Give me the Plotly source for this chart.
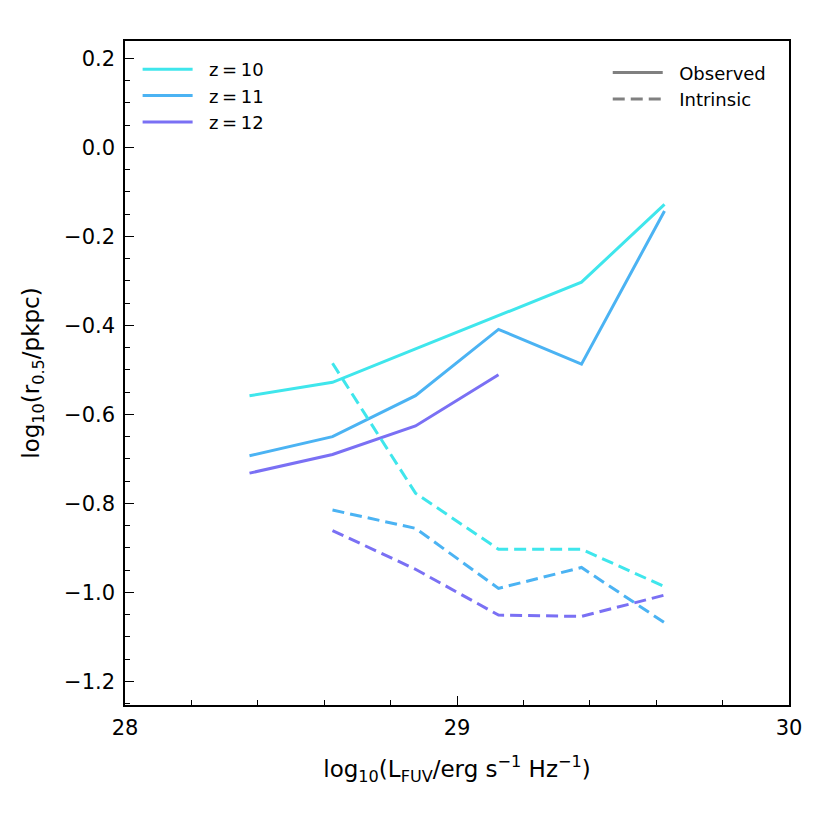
import numpy as np
import plotly.graph_objects as go

# luminosity bin centres, log10(L_FUV / erg s^-1 Hz^-1)
lum_bins = [28.375, 28.625, 28.875, 29.125, 29.375, 29.625]

# observed half-light radii, log10(r_0.5 / pkpc)
obs_z10 = [-0.558, -0.528, -0.453, -0.378, -0.303, -0.128]
obs_z11 = [-0.693, -0.650, -0.558, -0.409, -0.487, -0.143]
obs_z12 = [-0.732, -0.690, -0.626, -0.511, None, None]

# intrinsic half-light radii
int_z10 = [None, -0.485, -0.777, -0.903, -0.903, -0.987]
int_z11 = [None, -0.815, -0.856, -0.991, -0.944, -1.068]
int_z12 = [None, -0.861, -0.948, -1.051, -1.054, -1.006]

redshifts = ["\u00a0\u00a0z\u2009=\u200910", "\u00a0\u00a0z\u2009=\u200911", "\u00a0\u00a0z\u2009=\u200912"]
colours = ["#3fe6ec", "#4bb3f3", "#7a70f4"]

FONT = "DejaVu Sans"

fig = go.Figure()

# solid lines: observed sizes
for name, ys, col in zip(redshifts, [obs_z10, obs_z11, obs_z12], colours):
    fig.add_trace(go.Scatter(
        x=lum_bins, y=ys, mode="lines", name=name,
        line=dict(color=col, width=3), legend="legend"
    ))

# dashed lines: intrinsic sizes
for name, ys, col in zip(redshifts, [int_z10, int_z11, int_z12], colours):
    fig.add_trace(go.Scatter(
        x=lum_bins, y=ys, mode="lines", name=name, showlegend=False,
        line=dict(color=col, width=3, dash="12px,6px")
    ))

# legend-only entries for the line styles
fig.add_trace(go.Scatter(x=[None], y=[None], mode="lines", name="\u00a0\u00a0Observed",
                         line=dict(color="#808080", width=3), legend="legend2"))
fig.add_trace(go.Scatter(x=[None], y=[None], mode="lines", name="\u00a0\u00a0Intrinsic",
                         line=dict(color="#808080", width=3, dash="12px,6px"),
                         legend="legend2"))

axis_common = dict(
    showline=True, linecolor="black", linewidth=1.5, mirror=True,
    ticks="inside", tickcolor="black", tickwidth=1, ticklen=9,
    showgrid=False, zeroline=False,
    tickfont=dict(family=FONT, size=21, color="black"),
)

fig.update_xaxes(
    range=[28, 30], tickvals=[28, 29, 30],
    minor=dict(ticks="inside", dtick=0.2, ticklen=5, tickcolor="black"),
    ticklabelstandoff=3,
    title=dict(text="log<sub>10</sub>(L<sub>FUV</sub>/erg s<sup>\u22121</sup> Hz<sup>\u22121</sup>)",
               font=dict(family=FONT, size=23, color="black"), standoff=22),
    **axis_common
)
fig.update_yaxes(
    range=[-1.253, 0.239], tickvals=[0.2, 0.0, -0.2, -0.4, -0.6, -0.8, -1.0, -1.2],
    ticktext=["0.2", "0.0", "\u22120.2", "\u22120.4", "\u22120.6", "\u22120.8", "\u22121.0", "\u22121.2"],
    minor=dict(ticks="inside", dtick=0.05, ticklen=5, tickcolor="black"),
    ticklabelstandoff=4,
    title=dict(text="log<sub>10</sub>(r<sub>0.5</sub>/pkpc)",
               font=dict(family=FONT, size=23, color="black"), standoff=18),
    **axis_common
)

fig.update_layout(
    width=822, height=822,
    margin=dict(l=117, r=41, t=33, b=125),
    plot_bgcolor="white", paper_bgcolor="white",
    font=dict(family=FONT, color="black"),
    legend=dict(x=0.019, y=0.985, xanchor="left", yanchor="top",
                bgcolor="rgba(0,0,0,0)", font=dict(family=FONT, size=18),
                tracegroupgap=0, itemwidth=50),
    legend2=dict(x=0.974, y=0.98, xanchor="right", yanchor="top",
                 bgcolor="rgba(0,0,0,0)", font=dict(family=FONT, size=18),
                 itemwidth=50),
)

fig.write_html("out.html")
